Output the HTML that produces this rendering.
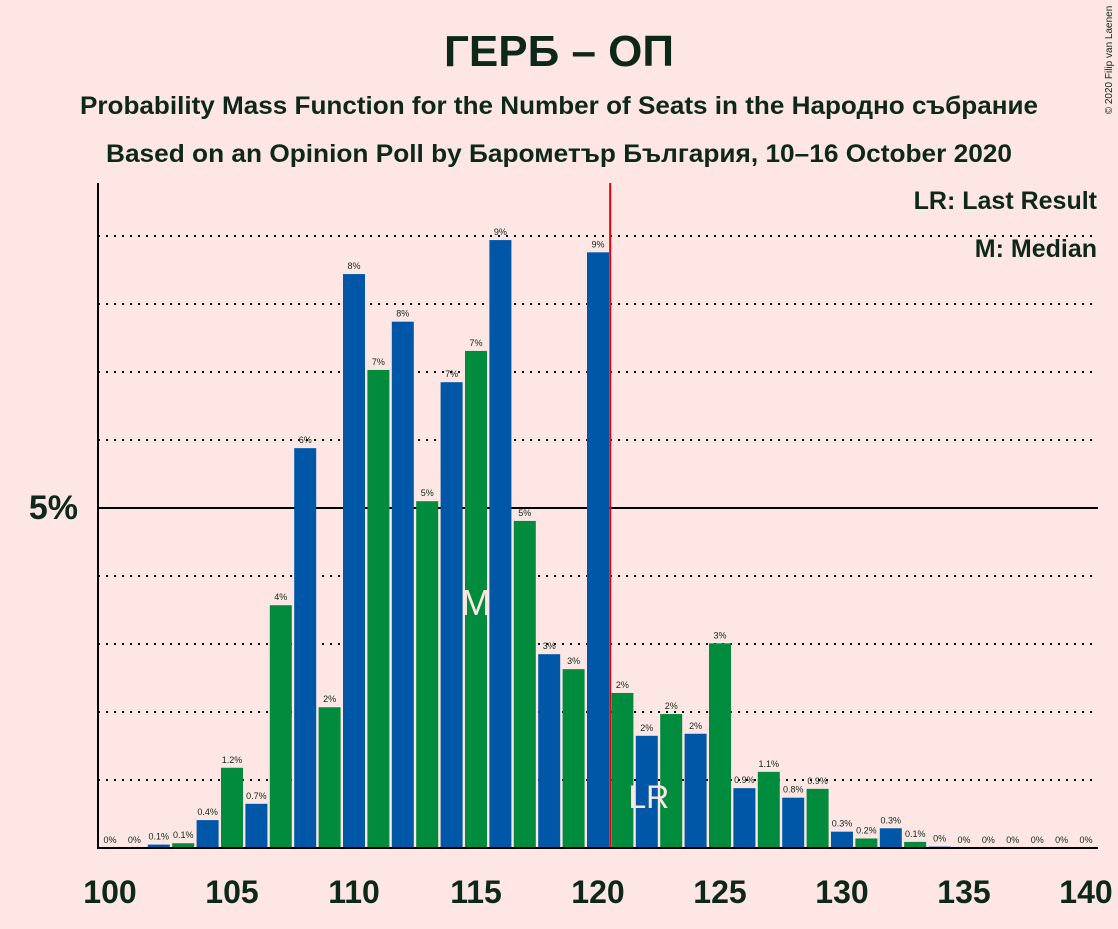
<!DOCTYPE html>
<html><head><meta charset="utf-8"><style>
body{margin:0;background:#fde6e4;}
svg text{font-family:"Liberation Sans","DejaVu Sans",sans-serif;fill:#0d2818;}
</style></head><body>
<svg id="chart" width="1118" height="924" xmlns="http://www.w3.org/2000/svg">
<rect width="1118" height="924" fill="#fde6e4"/>
<text x="559" y="66" text-anchor="middle" font-size="44" font-weight="bold">ГЕРБ – ОП</text>
<text x="559" y="114" text-anchor="middle" font-size="25" font-weight="bold" textLength="958" lengthAdjust="spacingAndGlyphs">Probability Mass Function for the Number of Seats in the Народно събрание</text>
<text x="559" y="162" text-anchor="middle" font-size="25" font-weight="bold" textLength="906" lengthAdjust="spacingAndGlyphs">Based on an Opinion Poll by Барометър България, 10–16 October 2020</text>
<text x="1097" y="209" text-anchor="end" font-size="25" font-weight="bold">LR: Last Result</text>
<text x="1097" y="257" text-anchor="end" font-size="25" font-weight="bold">M: Median</text>
<text x="1112" y="60" text-anchor="middle" font-size="10" transform="rotate(-90 1112 60)">© 2020 Filip van Laenen</text>
<g id="grid"></g><g id="bars"></g><g id="labels"></g>
<line x1="98" y1="183" x2="98" y2="848" stroke="#000" stroke-width="2"/>
<line x1="97" y1="848" x2="1098" y2="848" stroke="#000" stroke-width="2"/>
<text x="78" y="519" text-anchor="end" font-size="34" font-weight="bold">5%</text>
</svg>
<script>
const seats=[100,101,102,103,104,105,106,107,108,109,110,111,112,113,114,115,116,117,118,119,120,121,122,123,124,125,126,127,128,129,130,131,132,133,134,135,136,137,138,139,140];
const probs=[0,0,0.05,0.07,0.41,1.18,0.65,3.57,5.88,2.07,8.44,7.03,7.74,5.1,6.85,7.31,8.94,4.81,2.85,2.63,8.76,2.28,1.65,1.97,1.68,3.01,0.88,1.12,0.74,0.87,0.24,0.14,0.29,0.09,0.02,0,0,0,0,0,0];
const labelsTxt=["0%","0%","0.1%","0.1%","0.4%","1.2%","0.7%","4%","6%","2%","8%","7%","8%","5%","7%","7%","9%","5%","3%","3%","9%","2%","2%","2%","2%","3%","0.9%","1.1%","0.8%","0.9%","0.3%","0.2%","0.3%","0.1%","0%","0%","0%","0%","0%","0%","0%"];
const xTicks=[100,105,110,115,120,125,130,135,140];
const gridLevels=[1,2,3,4,6,7,8,9];
const lastResult=120, median=115, lrSeat=122;
const NS="http://www.w3.org/2000/svg";
const X=s=>110+(s-100)*24.4;
const Y=p=>848-p*68;
function mk(t,a,parent){const e=document.createElementNS(NS,t);for(const k in a)e.setAttribute(k,a[k]);document.getElementById(parent).appendChild(e);return e;}
gridLevels.forEach(g=>{const l=mk('line',{x1:98,x2:1098,y1:Y(g),y2:Y(g),stroke:'#000','stroke-width':2,'stroke-dasharray':'2,6'},'grid');

});
const f=mk('line',{x1:98,x2:1098,y1:Y(5),y2:Y(5),stroke:'#000','stroke-width':2},'grid');


seats.forEach((s,i)=>{const p=probs[i];
if(p>0){const r=mk('rect',{x:X(s)-11,y:Y(p),width:22,height:p*68,fill:s%2==0?'#0057a8':'#008c3c'},'bars');

}
const t=mk('text',{x:X(s),y:Y(p)-5,'text-anchor':'middle','font-size':9},'labels');t.textContent=labelsTxt[i];

});
xTicks.forEach(v=>{const t=mk('text',{x:X(v),y:903,'text-anchor':'middle','font-size':32,'font-weight':'bold'},'labels');t.textContent=v;

});
const lr=mk('line',{x1:X(lastResult)+12.2,x2:X(lastResult)+12.2,y1:183,y2:848,stroke:'#e0000a','stroke-width':2},'labels');


const m=mk('text',{x:X(median),y:615,'text-anchor':'middle','font-size':36,style:'fill:#fde6e4'},'labels');m.textContent='M';


const l2=mk('text',{x:X(lrSeat)+2,y:808,'text-anchor':'middle','font-size':32,style:'fill:#fde6e4'},'labels');l2.textContent='LR';


</script>
</body></html>
